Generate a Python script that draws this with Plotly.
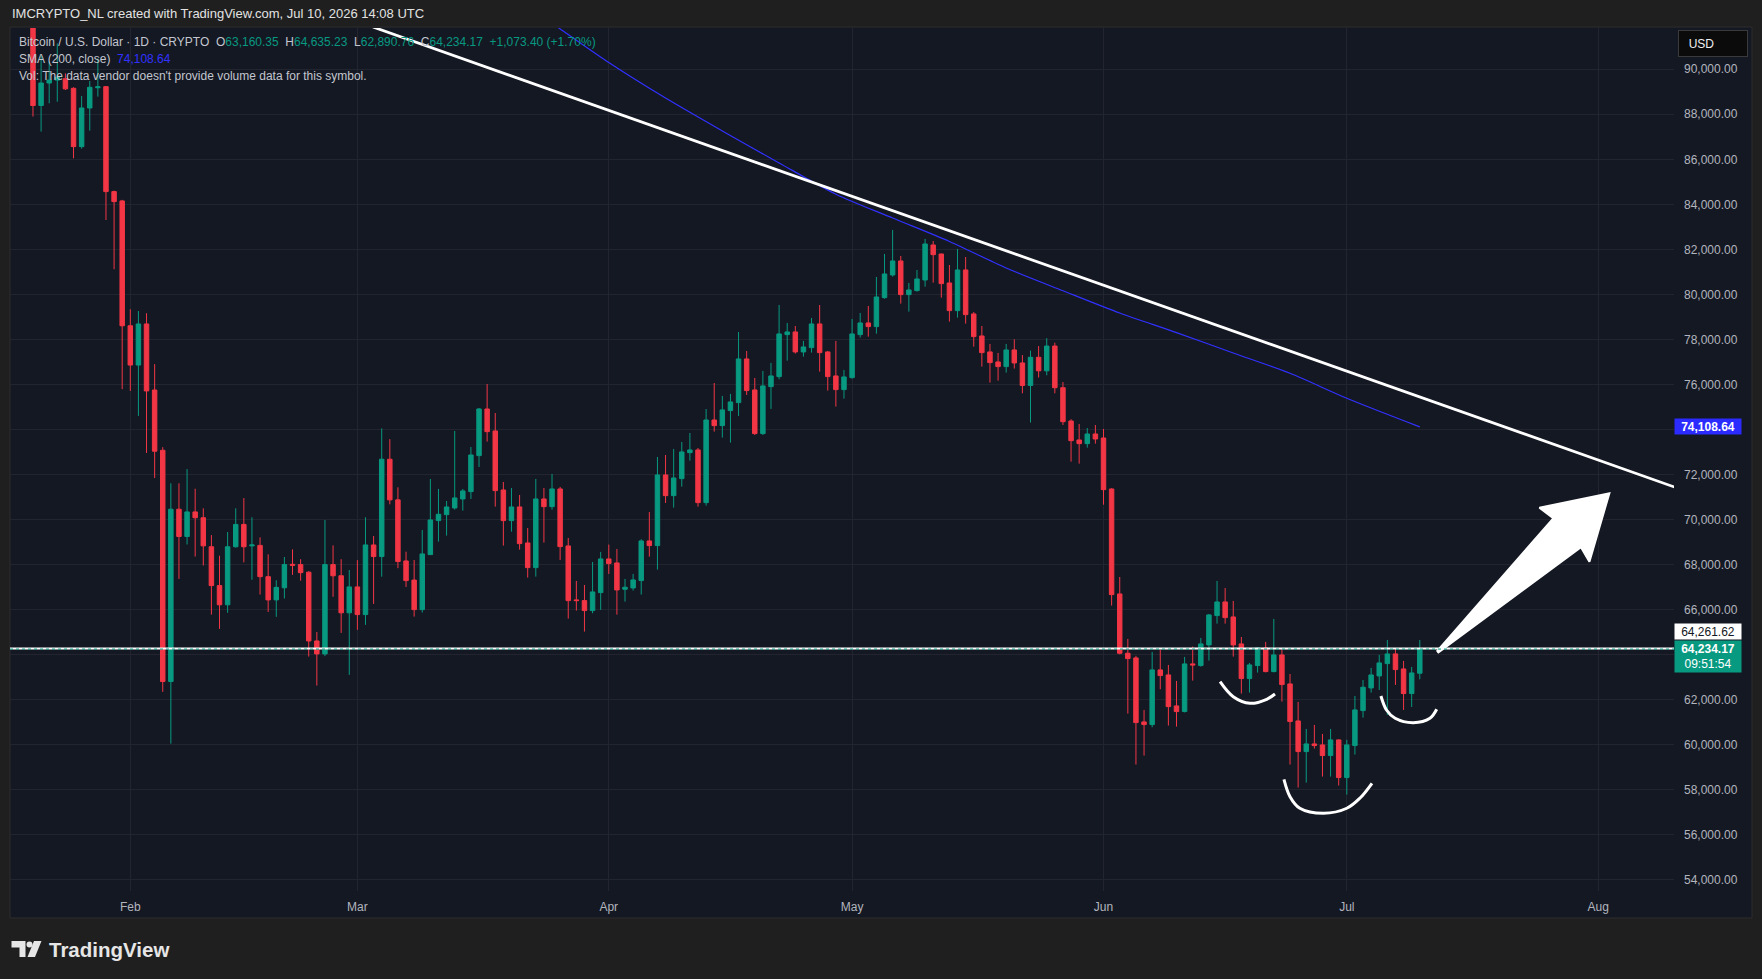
import plotly.graph_objects as go
import pandas as pd

W, H = 1762, 979
ML, MR, MT, MB = 10, 88, 28, 88
PW = W - ML - MR
PH = H - MT - MB


def px(x):
    return (x - ML) / PW


def py(y):
    return 1 - (y - MT) / PH


UP = "#089981"
DOWN = "#F23645"
BG_OUT = "#1f1f1f"
BG_PANEL = "#141823"
GRID = "#22252f"
TXT = "#b2b5be"
SMA_COLOR = "#3131ff"
FONT = "Liberation Sans"

# ---------------- data ----------------
dates = pd.date_range("2026-01-20", "2026-07-10", freq="D")

opens = [
    # Jan 20-31
    92400, 88390, 89390, 89520, 89580, 89155, 86563, 88281, 89180, 89229, 84564, 84150,
    # Feb
    78602, 76856, 78682, 75746, 73067, 62790, 70448, 69238, 70329, 70071, 68781, 67055, 66202, 68781,
    69773, 68820, 68841, 67452, 66420, 66956, 68000, 67988, 67650, 64595, 64020, 67988, 67492, 65845,
    # Mar
    66996, 65766, 68861, 68345, 72670, 70865, 68150, 67300, 65988, 68432, 69943, 70209, 70505, 70905,
    71231, 72831, 74904, 73927, 71305, 69943, 70550, 68950, 67854, 70905, 70564, 71350, 68817, 66420,
    66388, 65944, 66744,
    # Apr
    68240, 68062, 66892, 66951, 67277, 69039, 68832, 71972, 71053, 71809, 72964, 73083, 70742, 74415,
    74165, 74832, 75187, 77127, 75750, 73810, 75898, 76343, 78209, 78327, 77439, 77631, 78683, 77439,
    76372, 75765,
    # May
    76298, 78209, 78727, 78564, 79852, 80860, 81482, 79986, 80164, 80637, 82193, 81793, 80504, 79275,
    81082, 79127, 78149, 77439, 76994, 76787, 77527, 76950, 75950, 77200, 76600, 77700, 75850, 74370,
    73526, 73363, 73793,
    # Jun
    73615, 71349, 66684, 64048, 63841, 60997, 60878, 63307, 63085, 61708, 61456, 63574, 63500, 64418,
    65721, 66328, 65662, 64463, 62922, 63500, 64285, 63233, 63974, 62685, 61041, 59678, 60019, 59975,
    59501, 60197,
    # Jul 1-10
    58523, 59945, 61500, 62507, 63041, 63588, 64018, 63351, 62255, 63160.35,
]

highs = [
    92800, 90600, 90340, 91150, 89820, 89200, 88815, 89481, 90488, 89260, 84608, 84197,
    79336, 79257, 79158, 76896, 73206, 71599, 71599, 72234, 71361, 70488, 69297, 68385, 69436, 70488,
    70944, 70091, 69198, 68444, 67293, 68325, 68662, 68226, 67700, 64992, 69972, 68841, 68226, 67750,
    68186, 70091, 69258, 74039, 73563, 71420, 68563, 68195, 69528, 71794, 71350, 70816, 73927, 71350,
    73216, 74948, 76015, 74726, 71661, 71394, 71083, 69617, 71794, 71394, 72016, 71439, 69172, 67262,
    67084, 68106, 68551,
    68877, 68684, 67351, 67573, 69113, 70328, 72771, 72860, 73127, 73438, 73838, 73171, 74904, 76059,
    75484, 75573, 78327, 77483, 76283, 76594, 76950, 79527, 78727, 78594, 77927, 78949, 79527, 77483,
    77927, 76639,
    78905, 79171, 79482, 80771, 81793, 82859, 81704, 80504, 81082, 82459, 82370, 81800, 81304, 82015,
    81659, 79216, 78594, 77794, 77394, 77794, 78000, 77300, 77500, 77700, 78050, 77850, 76100, 74450,
    74237, 74059, 74193,
    74015, 71380, 67439, 64685, 63930, 61530, 64107, 64196, 63529, 62818, 63885, 64344, 64729, 65795,
    67262, 66950, 66373, 64773, 63618, 64300, 64551, 65573, 64240, 63130, 61885, 60685, 60863, 60463,
    60685, 60220,
    60200, 62151, 62862, 63396, 63973, 64640, 64284, 63707, 63440, 64635.23,
]

lows = [
    87900, 87230, 88490, 88560, 89080, 86045, 86475, 87274, 88785, 83305, 81113, 75785,
    75706, 74595, 72948, 71837, 62333, 60032, 67353, 68881, 68345, 67948, 65766, 65131, 65845, 68742,
    68087, 67313, 66659, 65885, 65667, 66480, 67531, 67274, 63901, 62611, 63921, 66559, 64952, 63087,
    65091, 65309, 66242, 67452, 70666, 67829, 66996, 65677, 65855, 68417, 69010, 69276, 70431, 70387,
    70905, 72327, 73453, 70564, 68832, 69454, 68654, 67410, 67455, 68965, 70431, 68195, 65588, 65944,
    65011, 65826, 65974,
    67573, 65766, 66344, 66833, 66655, 68343, 67766, 70728, 70520, 71453, 72609, 70564, 70609, 73897,
    73632, 73410, 74595, 75528, 73750, 73750, 74906, 76224, 77053, 77365, 77231, 77409, 76565, 75721,
    75010, 75365,
    76250, 78075, 78120, 78253, 79800, 80786, 79586, 79231, 80120, 80341, 80519, 79852, 78786, 78964,
    78697, 77675, 76787, 76076, 76165, 76520, 76700, 75600, 74300, 76300, 76400, 75600, 74193, 72563,
    72474, 73185, 73363,
    70653, 66166, 64000, 61367, 59101, 59501, 60760, 62448, 60834, 60789, 61420, 62833, 63455, 63722,
    65366, 65366, 63900, 62256, 62300, 63189, 63200, 63200, 61900, 59101, 58079, 58301, 59812, 58568,
    58568, 58168,
    57768, 59545, 61189, 62300, 62418, 61307, 62640, 61529, 61663, 62890.76,
]

closes = [
    88390, 89390, 89520, 89650, 89130, 86563, 88281, 89200, 89220, 84564, 84120, 78602,
    76856, 78682, 75706, 73027, 62790, 70448, 69238, 70329, 70071, 68821, 67055, 66202, 68781, 69773,
    68781, 68860, 67452, 66420, 66976, 67988, 67960, 67631, 64595, 64020, 67988, 67492, 65845, 66996,
    65766, 68861, 68345, 72670, 70865, 68127, 67277, 65988, 68462, 69972, 70224, 70550, 70950, 71261,
    72860, 74904, 73897, 71276, 69943, 70550, 68921, 67854, 70905, 70564, 71350, 68787, 66388, 66388,
    65944, 66773, 68240,
    68032, 66862, 66981, 67307, 69039, 68832, 71972, 71053, 71838, 72994, 73083, 70742, 74415, 74164,
    74862, 75217, 77127, 75721, 73810, 75928, 76372, 78238, 78327, 77439, 77661, 78683, 77409, 76343,
    75765, 76328,
    78238, 78727, 78564, 79882, 80904, 81482, 79986, 80193, 80682, 82237, 81763, 80475, 79275, 81082,
    79097, 78120, 77409, 76965, 76787, 77527, 76950, 75950, 77200, 76600, 77700, 75850, 74340, 73496,
    73363, 73793, 73570,
    71319, 66654, 64048, 63811, 60967, 60878, 63307, 63056, 61678, 61456, 63574, 63530, 64463, 65751,
    66328, 65632, 64418, 62922, 63530, 64285, 63233, 63974, 62656, 61012, 59678, 60019, 59945, 59501,
    60197, 58523,
    59975, 61530, 62537, 63085, 63618, 64018, 63322, 62255, 63173, 64234.17,
]

assert len(dates) == len(opens) == len(highs) == len(lows) == len(closes)

# SMA(200, close)
sma_dates = ["2026-03-18", "2026-03-25", "2026-04-01", "2026-04-08", "2026-04-15", "2026-04-22",
             "2026-04-29", "2026-05-06", "2026-05-13", "2026-05-20", "2026-05-27", "2026-06-03",
             "2026-06-10", "2026-06-17", "2026-06-24", "2026-07-01", "2026-07-10"]
sma_values = [93700, 92040, 90300, 88720, 87260, 85840, 84450, 83390, 82350, 81170, 80160, 79170,
              78300, 77390, 76490, 75380, 74108.64]

price_ticks = list(range(54000, 90001, 2000))
hidden_ticks = (64000, 74000)
tick_labels = ["" if v in hidden_ticks else f"{v:,.2f}" for v in price_ticks]
month_ticks = ["2026-02-01", "2026-03-01", "2026-04-01", "2026-05-01", "2026-06-01", "2026-07-01", "2026-08-01"]
month_labels = ["Feb", "Mar", "Apr", "May", "Jun", "Jul", "Aug"]

hline_price = 64261.62
last_close = 64234.17
sma_last = 74108.64
countdown = "09:51:54"

# drawings (anchor points in date / price)
trend_dates = ["2026-03-02 22:00", "2026-08-14 00:00"]
trend_prices = [91880, 70977]

arc_left_dates = ["2026-06-15 09:00", "2026-06-17 00:00", "2026-06-19 01:30", "2026-06-21 03:00", "2026-06-22 03:30"]
arc_left_prices = [62785, 62118, 61825, 62003, 62238]
arc_head_dates = ["2026-06-23 06:00", "2026-06-24 00:00", "2026-06-25 05:00", "2026-06-28 02:30",
                  "2026-07-01 00:00", "2026-07-02 14:30", "2026-07-04 02:30"]
arc_head_prices = [58447, 57674, 57159, 56936, 57159, 57603, 58270]
arc_right_dates = ["2026-07-05 05:00", "2026-07-05 21:30", "2026-07-06 23:00", "2026-07-09 05:00",
                   "2026-07-11 06:00", "2026-07-12 02:00"]
arc_right_prices = [62149, 61527, 61158, 60963, 61158, 61558]

arrow_dates = ["2026-07-12 02:00", "2026-07-26 11:00", "2026-07-24 18:00", "2026-08-02 09:00",
               "2026-07-30 22:00", "2026-07-29 21:00", "2026-07-12 05:00"]
arrow_prices = [64118, 70046, 70517, 71157, 68118, 68757, 64060]

# ---------------- figure ----------------
fig = go.Figure()

fig.add_trace(go.Candlestick(
    x=dates, open=opens, high=highs, low=lows, close=closes,
    increasing=dict(line=dict(color=UP, width=1), fillcolor=UP),
    decreasing=dict(line=dict(color=DOWN, width=1), fillcolor=DOWN),
    whiskerwidth=0, showlegend=False, hoverinfo="skip",
))

fig.add_trace(go.Scatter(x=sma_dates, y=sma_values, mode="lines",
                         line=dict(color=SMA_COLOR, width=1.2, shape="spline", smoothing=0.8),
                         showlegend=False, hoverinfo="skip"))

fig.add_trace(go.Scatter(x=trend_dates, y=trend_prices, mode="lines",
                         line=dict(color="white", width=2.8), showlegend=False, hoverinfo="skip"))

for xs, ys in [(arc_left_dates, arc_left_prices), (arc_head_dates, arc_head_prices),
               (arc_right_dates, arc_right_prices)]:
    fig.add_trace(go.Scatter(x=xs, y=ys, mode="lines", line=dict(color="white", width=3, shape="spline"),
                             showlegend=False, hoverinfo="skip"))

fig.add_trace(go.Scatter(x=arrow_dates, y=arrow_prices, mode="lines", fill="toself",
                         fillcolor="white", line=dict(color="white", width=2),
                         showlegend=False, hoverinfo="skip"))

shapes = [
    # panel background
    dict(type="rect", xref="paper", yref="paper", x0=px(10), x1=px(1752), y0=py(918), y1=py(27),
         fillcolor=BG_PANEL, line=dict(color="#2c2c2e", width=1), layer="below"),
    # drawn horizontal level and last price line
    dict(type="line", xref="paper", yref="y", x0=0, x1=1, y0=hline_price, y1=hline_price,
         line=dict(color="white", width=2), layer="above"),
    dict(type="line", xref="paper", yref="y", x0=0, x1=1, y0=last_close, y1=last_close,
         line=dict(color=UP, width=1, dash="dot"), layer="above"),
]

# TradingView logo mark
def ppath(pts):
    return "M " + " L ".join(f"{px(a):.6f},{py(b):.6f}" for a, b in pts) + " Z"

LOGO = "#e6e6e6"
shapes.append(dict(type="path", xref="paper", yref="paper",
                   path=ppath([(11.5, 941), (25.5, 941), (25.5, 957), (19.5, 957), (19.5, 947.5), (11.5, 947.5)]),
                   fillcolor=LOGO, line=dict(width=0)))
shapes.append(dict(type="circle", xref="paper", yref="paper", x0=px(26.5), x1=px(32.5), y0=py(947.5), y1=py(941.5),
                   fillcolor=LOGO, line=dict(width=0)))
shapes.append(dict(type="path", xref="paper", yref="paper",
                   path=ppath([(34, 941), (41.5, 941), (35, 957), (27.5, 957)]),
                   fillcolor=LOGO, line=dict(width=0)))

S = "\u00a0"
teal = lambda t: f"<span style='color:{UP}'>{t}</span>"
legend1 = ("Bitcoin / U.S. Dollar · 1D · CRYPTO" + S * 2 + "O" + teal("63,160.35") + S * 2 + "H" + teal("64,635.23")
           + S * 2 + "L" + teal("62,890.76") + S * 2 + "C" + teal("64,234.17") + S * 2 + teal("+1,073.40 (+1.70%)"))
legend2 = "SMA (200, close)" + S * 2 + f"<span style='color:{SMA_COLOR}'>74,108.64</span>"
legend3 = "Vol: The data vendor doesn't provide volume data for this symbol."

annotations = [
    dict(text="IMCRYPTO_NL created with TradingView.com, Jul 10, 2026 14:08 UTC", xref="paper", yref="paper",
         x=px(10), y=py(14), xanchor="left", yanchor="middle", showarrow=False,
         font=dict(family=FONT, size=13, color="#e2e2e2")),
    dict(text=legend1, xref="paper", yref="paper", x=px(17), y=py(42), xanchor="left", yanchor="middle",
         showarrow=False, font=dict(family=FONT, size=12, color="#c3c6ce")),
    dict(text=legend2, xref="paper", yref="paper", x=px(17), y=py(59), xanchor="left", yanchor="middle",
         showarrow=False, font=dict(family=FONT, size=12, color="#c3c6ce")),
    dict(text=legend3, xref="paper", yref="paper", x=px(17), y=py(76), xanchor="left", yanchor="middle",
         showarrow=False, font=dict(family=FONT, size=12, color="#c3c6ce")),
    # price-scale labels
    dict(text=S * 2 + "USD", xref="paper", yref="paper", x=px(1713), y=py(43.5), xanchor="center", yanchor="middle",
         width=62, height=19, align="left", borderpad=3, bgcolor="#0b0b0c", bordercolor="#3a3a3d", borderwidth=1,
         showarrow=False, font=dict(family=FONT, size=12, color="#f0f0f0")),
    dict(text=f"<b>{sma_last:,.2f}</b>", xref="paper", yref="y", x=px(1708), y=sma_last, xanchor="center",
         yanchor="middle", width=66, height=15, borderpad=0, bgcolor="#2b2bff", showarrow=False,
         font=dict(family=FONT, size=12, color="white")),
    dict(text=f"{hline_price:,.2f}", xref="paper", yref="paper", x=px(1708), y=py(631.5), xanchor="center",
         yanchor="middle", width=66, height=15, borderpad=0, bgcolor="white", showarrow=False,
         font=dict(family=FONT, size=12, color="#131722")),
    dict(text=f"<b>{last_close:,.2f}</b><br>{countdown}", xref="paper", yref="paper", x=px(1708), y=py(656.2),
         xanchor="center", yanchor="middle", width=66, height=31, borderpad=0, bgcolor=UP, showarrow=False,
         font=dict(family=FONT, size=12, color="white")),
    # TradingView wordmark
    dict(text="<b>TradingView</b>", xref="paper", yref="paper", x=px(47), y=py(949.5), xanchor="left",
         yanchor="middle", showarrow=False, font=dict(family=FONT, size=20.5, color=LOGO)),
]

fig.update_layout(
    width=W, height=H, autosize=False,
    margin=dict(l=ML, r=MR, t=MT, b=MB, pad=0),
    paper_bgcolor=BG_OUT, plot_bgcolor=BG_PANEL,
    showlegend=False, hovermode=False,
    boxgap=0.45, boxgroupgap=0,
    shapes=shapes, annotations=annotations,
    font=dict(family=FONT, size=12, color=TXT),
    xaxis=dict(type="date", range=["2026-01-17 04:00", "2026-08-10 08:17"],
               tickvals=month_ticks, ticktext=month_labels, showgrid=True, gridcolor=GRID, gridwidth=1,
               zeroline=False, showline=False, ticks="", ticklabelstandoff=7,
               tickfont=dict(family=FONT, size=12, color=TXT), rangeslider=dict(visible=False), fixedrange=True),
    yaxis=dict(side="right", range=[53482, 91835], tickvals=price_ticks, ticktext=tick_labels,
               showgrid=True, gridcolor=GRID, gridwidth=1, zeroline=False, showline=False, ticks="",
               ticklabelstandoff=9, tickfont=dict(family=FONT, size=12, color=TXT), fixedrange=True),
)

fig.write_html("out.html")
